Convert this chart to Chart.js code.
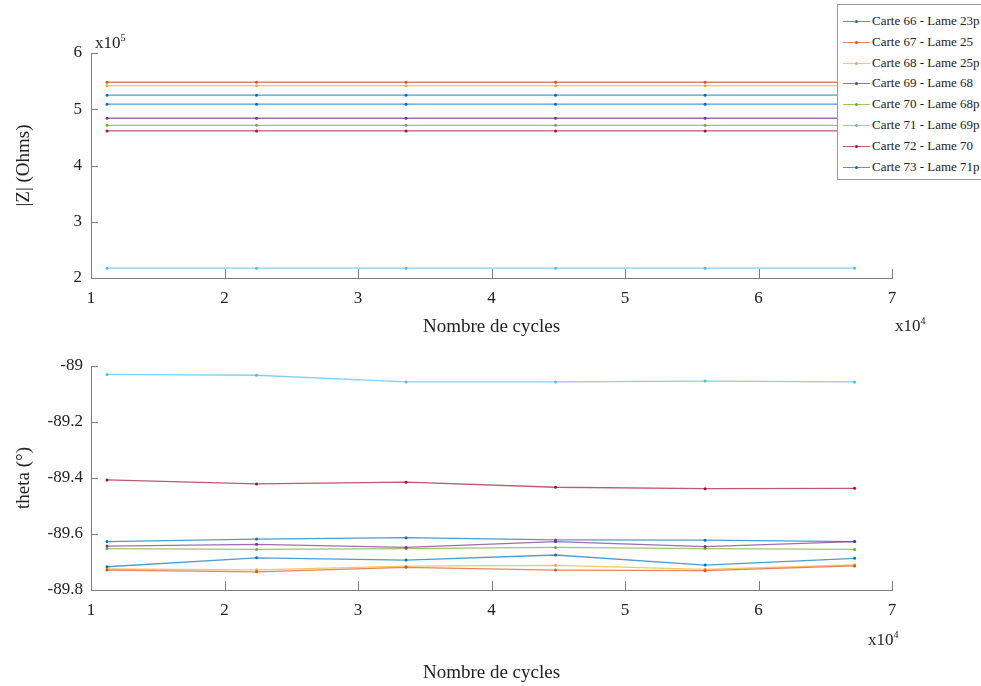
<!DOCTYPE html>
<html>
<head>
<meta charset="utf-8">
<script src="https://cdn.jsdelivr.net/npm/chart.js@4.4.1/dist/chart.umd.min.js"></script>
<style>
  body { margin: 0; background: #fff; font-family: 'Liberation Serif', serif; }
  #wrap { position: relative; width: 981px; height: 686px; overflow: hidden; }
  canvas { position: absolute; left: 0; }
  .txt { position: absolute; font-size: 17px; color: #222; white-space: nowrap; line-height: 1; }
  .txt sup { font-size: 10px; vertical-align: 7px; line-height: 0; }
  #legend { position: absolute; left: 837px; top: 4px; width: 160px; height: 176px;
            border: 1px solid #999; background: #fff; box-sizing: border-box; }
  .item { position: absolute; left: 5px; height: 14px; font-size: 13px; color: #222; white-space: nowrap; }
  .item .ln { position: absolute; left: 0; top: 7px; width: 27px; height: 0; border-top: 1.3px solid; }
  .item .dot { position: absolute; left: 12px; top: 6px; width: 3px; height: 3px; border-radius: 50%; }
  .item span { position: absolute; left: 29px; top: -1px; }
</style>
</head>
<body>
<div id="wrap">
  <canvas id="chartZ" width="981" height="345" style="top:0"></canvas>
  <canvas id="chartTheta" width="981" height="341" style="top:345px"></canvas>
  <div class="txt" style="left:95px; top:34px">x10<sup>5</sup></div>
  <div class="txt" style="left:895px; top:317px">x10<sup>4</sup></div>
  <div class="txt" style="left:868px; top:631px">x10<sup>4</sup></div>
  <div id="legend"></div>
</div>
<script>
// nombre de cycles
const cycles = [11200, 22400, 33600, 44800, 56000, 67200];
const labels = ['Carte 66 - Lame 23p', 'Carte 67 - Lame 25', 'Carte 68 - Lame 25p', 'Carte 69 - Lame 68',
                'Carte 70 - Lame 68p', 'Carte 71 - Lame 69p', 'Carte 72 - Lame 70', 'Carte 73 - Lame 71p'];
const colors = ['#0072BD', '#D95319', '#EDB120', '#7E2F8E', '#77AC30', '#4DBEEE', '#A2142F', '#0072BD'];

// |Z| (Ohms)
const z66 = [509000, 509000, 509000, 509000, 509000, 509000];
const z67 = [548000, 548000, 548000, 548000, 548000, 548000];
const z68 = [542000, 542000, 542000, 542000, 542000, 542000];
const z69 = [484000, 484000, 484000, 484000, 484000, 484000];
const z70 = [471500, 471500, 471500, 471500, 471500, 471500];
const z71 = [217500, 217500, 217500, 217500, 217500, 217500];
const z72 = [461500, 461500, 461500, 461500, 461500, 461500];
const z73 = [525000, 525000, 525000, 525000, 525000, 525000];

// theta (deg)
const t66 = [-89.717, -89.685, -89.693, -89.675, -89.711, -89.687];
const t67 = [-89.729, -89.735, -89.719, -89.729, -89.731, -89.714];
const t68 = [-89.725, -89.728, -89.715, -89.712, -89.726, -89.710];
const t69 = [-89.643, -89.637, -89.648, -89.627, -89.645, -89.627];
const t70 = [-89.652, -89.655, -89.652, -89.648, -89.652, -89.655];
const t71 = [-89.030, -89.033, -89.057, -89.057, -89.054, -89.057];
const t72 = [-89.407, -89.421, -89.415, -89.433, -89.438, -89.437];
const t73 = [-89.627, -89.618, -89.613, -89.621, -89.622, -89.627];

const zSeries = [z66, z67, z68, z69, z70, z71, z72, z73];
const tSeries = [t66, t67, t68, t69, t70, t71, t72, t73];

const axisColor = '#7d7d7d';
Chart.defaults.font.family = "'Liberation Serif', serif";
Chart.defaults.color = '#222';

function fade(hex, a) {
    const n = parseInt(hex.slice(1), 16);
    return `rgba(${n >> 16}, ${(n >> 8) & 255}, ${n & 255}, ${a})`;
}

function makeDatasets(series) {
    return series.map(function (vals, i) {
        return {
            label: labels[i],
            data: cycles.map((c, k) => ({ x: c, y: vals[k] })),
            borderColor: fade(colors[i], 0.7),
            backgroundColor: colors[i],
            borderWidth: 1.3,
            pointRadius: 1.5,
            pointBorderWidth: 0,
            tension: 0
        };
    });
}

// ticks vers l'interieur, comme matlab
const innerTicks = {
    id: 'innerTicks',
    afterDraw(chart) {
        const ctx = chart.ctx;
        const xs = chart.scales.x;
        const ys = chart.scales.y;
        ctx.save();
        ctx.strokeStyle = axisColor;
        ctx.lineWidth = 1;
        ctx.beginPath();
        xs.ticks.forEach(function (t) {
            const px = Math.round(xs.getPixelForValue(t.value)) + 0.5;
            ctx.moveTo(px, xs.top);
            ctx.lineTo(px, xs.top - 9);
        });
        ys.ticks.forEach(function (t) {
            const py = Math.round(ys.getPixelForValue(t.value)) + 0.5;
            ctx.moveTo(ys.right, py);
            ctx.lineTo(ys.right + 7, py);
        });
        ctx.stroke();
        ctx.restore();
    }
};

function makeConfig(series, yOpts, yTitle, xHeight, padding) {
    return {
        type: 'line',
        data: { datasets: makeDatasets(series) },
        options: {
            responsive: false,
            animation: false,
            layout: { padding: padding },
            plugins: { legend: { display: false }, tooltip: { enabled: false } },
            scales: {
                x: {
                    type: 'linear',
                    min: 10000,
                    max: 70000,
                    grid: { display: false, drawTicks: false },
                    border: { display: true, color: axisColor, width: 1 },
                    ticks: { stepSize: 10000, padding: 10, font: { size: 17 },
                             callback: v => String(v / 10000) },
                    title: { display: true, text: 'Nombre de cycles', font: { size: 19 },
                             padding: { top: 0, bottom: 0 } },
                    afterFit: function (scale) { scale.height = xHeight; }
                },
                y: Object.assign({
                    grid: { display: false, drawTicks: false },
                    border: { display: true, color: axisColor, width: 1 },
                    title: { display: true, text: yTitle, font: { size: 19 },
                             padding: { top: 13, bottom: 0 } },
                    afterFit: function (scale) { scale.width = 91; }
                }, yOpts)
            }
        },
        plugins: [innerTicks]
    };
}

const chartZ = new Chart(
    document.getElementById('chartZ'),
    makeConfig(zSeries, {
        min: 200000, max: 600000,
        ticks: { stepSize: 100000, padding: 9, font: { size: 17 }, callback: v => String(v / 100000) }
    }, '|Z| (Ohms)', 60, { top: 53, right: 89, left: 0, bottom: 7 })
);

const chartTheta = new Chart(
    document.getElementById('chartTheta'),
    makeConfig(tSeries, {
        min: -89.8, max: -89,
        ticks: { stepSize: 0.2, padding: 8, font: { size: 17 }, callback: v => String(Number(v.toFixed(1))) }
    }, 'theta (\u00B0)', 94, { top: 21, right: 89, left: 0, bottom: 2 })
);

// legende
const legend = document.getElementById('legend');
labels.forEach(function (lab, i) {
    const item = document.createElement('div');
    item.className = 'item';
    item.style.top = (9 + i * 20.8) + 'px';
    item.innerHTML = '<div class="ln" style="border-color:' + fade(colors[i], 0.7) + '"></div>' +
        '<div class="dot" style="background:' + colors[i] + '"></div><span>' + lab + '</span>';
    legend.appendChild(item);
});
</script>
</body>
</html>
